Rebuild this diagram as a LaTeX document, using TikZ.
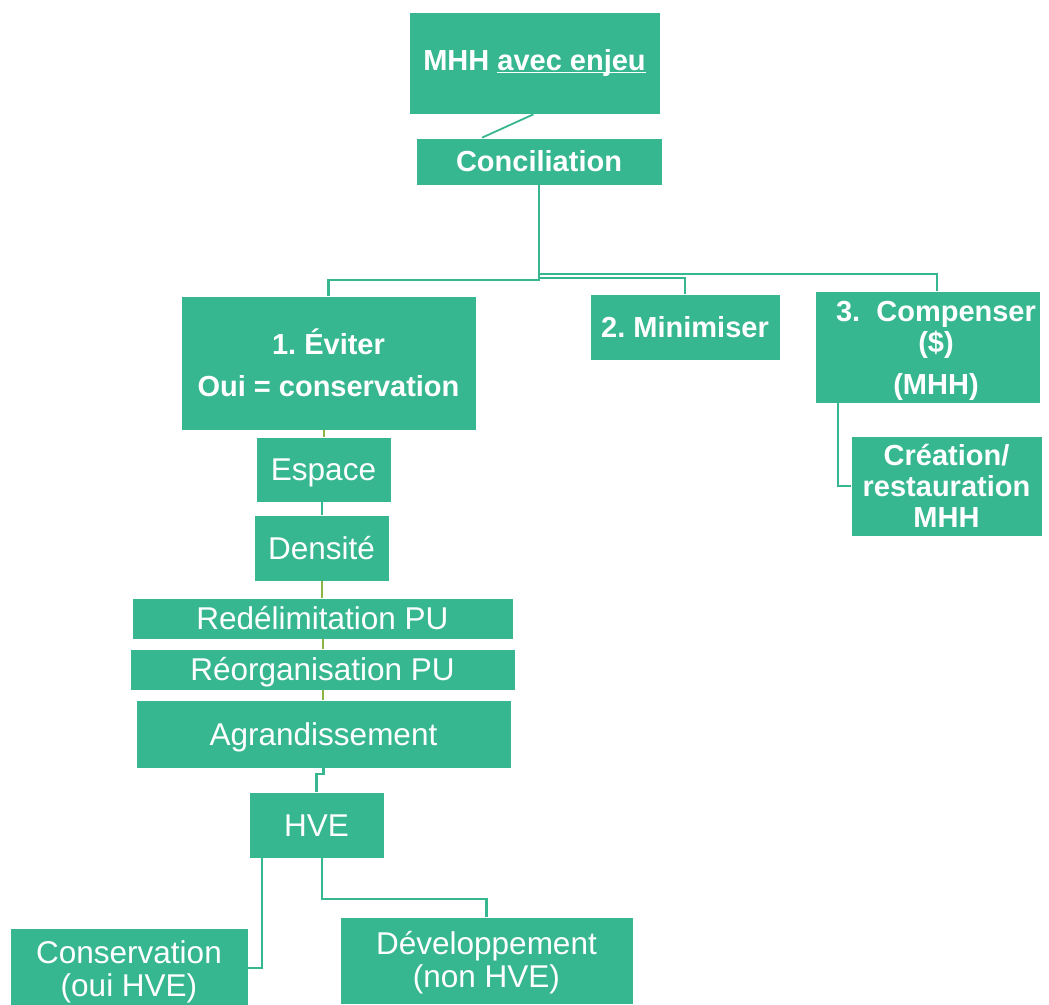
\documentclass[tikz,border=0pt]{standalone}
\usepackage{fontspec}
\setmainfont{Liberation Sans}
\definecolor{sarcelle}{HTML}{37B78F}
\definecolor{vertlien}{HTML}{8DB545}
\newcommand{\txtnormal}{\fontsize{31.5}{33}\selectfont}
\newcommand{\txtgras}{\fontsize{29}{31}\selectfont\bfseries}
\newcommand{\souligne}[1]{\setbox0\hbox{#1}\rlap{\rule[-3pt]{\wd0}{1.6pt}}\box0}
\frenchspacing

\begin{document}
\begin{tikzpicture}[x=1pt, y=-1pt,
    boite/.style={fill=sarcelle, draw=white, line width=0.6pt, text=white, inner sep=0pt, align=center, font=\txtnormal},
    ligne/.style={boite, text height=22.5pt, text depth=0pt},
    titre/.style={boite, font=\txtgras},
    lien/.style={draw=sarcelle, line width=2.2pt},
    lienfin/.style={draw=vertlien, line width=2pt}]
  \useasboundingbox (0,0) rectangle (1049,1004);

  % haut
  \node[titre, minimum width=251, minimum height=102] (mhh) at (534.5,63) {MHH \souligne{avec enjeu}};
  \node[titre, minimum width=246, minimum height=47] (concil) at (539,161.5) {Conciliation};

  % trois options
  \node[titre, minimum width=295, minimum height=134] (eviter) at (328.5,363) {1. Éviter\\[11pt]Oui = conservation};
  \node[titre, minimum width=190, minimum height=66] (minim) at (685,327) {2. Minimiser};
  \node[titre, minimum width=225, minimum height=112,
        label={[text=white, font=\txtgras, align=center, xshift=8.5, yshift=-4]center:{3.\ \ Compenser\\(\$)\\[11pt](MHH)}}] (compens) at (927.5,347) {};
  \node[titre, minimum width=191, minimum height=100] (creation) at (946.5,486) {Création/\\restauration\\MHH};

  % colonne eviter
  \node[ligne, minimum width=135, minimum height=65] (espace) at (323.5,469.5) {Espace};
  \node[ligne, minimum width=135, minimum height=66] (densite) at (321.5,548) {Densité};
  \node[ligne, minimum width=381, minimum height=41] (redelim) at (322.5,618.5) {Redélimitation PU};
  \node[ligne, minimum width=385, minimum height=41] (reorg) at (322.5,669.5) {Réorganisation PU};
  \node[ligne, minimum width=375, minimum height=68] (agrand) at (323.5,734) {Agrandissement};
  \node[ligne, minimum width=135, minimum height=66] (hve) at (316.5,825) {HVE};
  \node[boite, minimum width=238, minimum height=80,
        label={[text=white, font=\txtnormal, align=center, yshift=-4]center:{Conservation\\(oui HVE)}}] (conserv) at (129,968) {};
  \node[boite, minimum width=293, minimum height=87,
        label={[text=white, font=\txtnormal, align=center, yshift=-2]center:{Développement\\(non HVE)}}] (devel) at (486.5,960.5) {};

  % liens
  \coordinate (barreG) at (0,280);
  \coordinate (barreM) at (0,278);
  \coordinate (barreD) at (0,274);
  \draw[lien, line width=1.8pt] ([xshift=-1]mhh.south) -- ([xshift=-57]concil.north);
  \draw[lien] (concil.south) -- (concil.south |- barreG) -| (eviter.north);
  \draw[lien] (concil.south |- barreM) -| (minim.north);
  \draw[lien] (concil.south |- barreD) -| ([xshift=9.5]compens.north);
  \draw[lien] ([xshift=-89.5]compens.south) |- (creation.west);

  \draw[lienfin] (eviter.south -| espace.north) -- (espace.north);
  \draw[lien, line width=2pt] (espace.south -| densite.north) -- (densite.north);
  \draw[lienfin] (densite.south) -- (densite.south |- redelim.north);
  \draw[lienfin] (redelim.south) -- (reorg.north);
  \draw[lienfin] (reorg.south) -- (reorg.south |- agrand.north);
  \draw[lien] (agrand.south) -- ++(0,6) -| (hve.north);

  \draw[lien] ([xshift=-54.5]hve.south) |- (conserv.east);
  \draw[lien] ([xshift=5.5]hve.south) -- ++(0,41) -| (devel.north);
\end{tikzpicture}
\end{document}
